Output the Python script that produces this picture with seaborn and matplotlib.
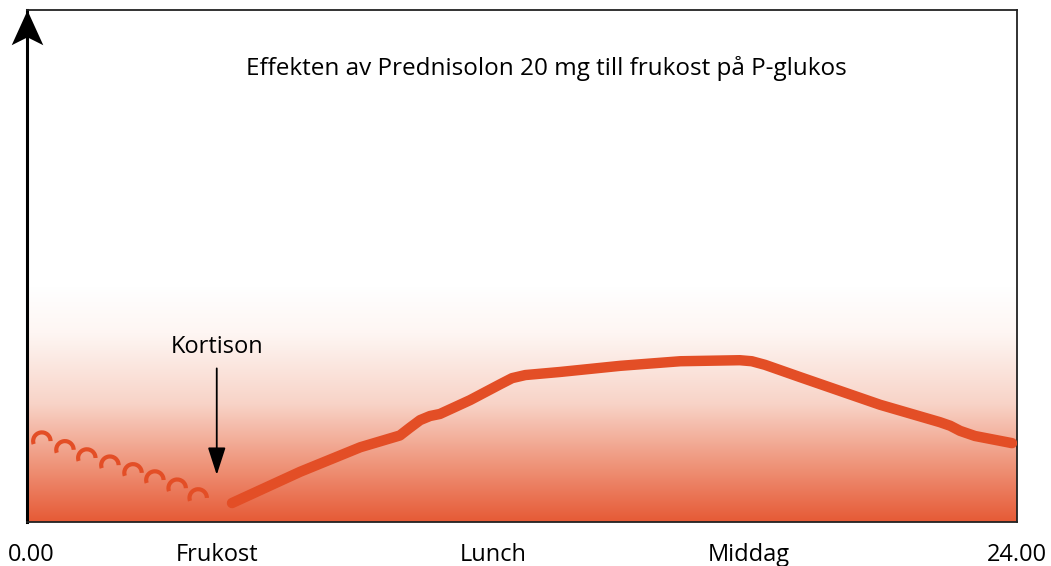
import numpy as np
import matplotlib
matplotlib.use("Agg")
import matplotlib.pyplot as plt
import seaborn as sns
import pandas as pd
from matplotlib.path import Path
from matplotlib.colors import LinearSegmentedColormap

# time of day in hours, glucose level in arbitrary units (0-100)
hours = [4.97, 6.62, 8.08, 9.04, 9.28, 9.53, 9.77, 10.01, 10.74, 11.47, 11.76, 12.08,
         12.92, 14.38, 15.84, 17.28, 17.57, 17.89, 18.74, 20.68, 22.13, 22.38, 22.62, 22.98, 23.88]
glucose = [3.7, 9.8, 14.6, 16.9, 18.4, 19.9, 20.7, 21.1, 23.8, 26.9, 28.1, 28.7,
           29.3, 30.5, 31.4, 31.6, 31.4, 30.7, 28.3, 22.9, 19.5, 18.8, 17.8, 16.8, 15.4]

# nightly values before the dose (drawn as scallops)
night_hours = [0.36, 0.92, 1.45, 2.01, 2.57, 3.10, 3.64, 4.15]
night_glucose = [15.8, 14.1, 12.5, 11.1, 9.6, 8.2, 6.6, 4.7]

tick_pos = [0.1, 4.6, 11.3, 17.5, 24.0]
tick_labels = ["0.00", "Frukost", "Lunch", "Middag", "24.00"]

title = "Effekten av Prednisolon 20 mg till frukost på P-glukos"
dose_label = "Kortison"
dose_hour = 4.6

red = "#e34e26"

sns.set_style("white")
plt.rcParams["font.family"] = ["Open Sans", "DejaVu Sans"]

fig = plt.figure(figsize=(10.51, 5.66), dpi=100)
ax = fig.add_axes([27 / 1051, 44 / 566, 990 / 1051, 512 / 566])
ax.set_xlim(0, 24)
ax.set_ylim(0, 100)

# background gradient, white at top fading to orange at bottom
grad_cmap = LinearSegmentedColormap.from_list(
    "bg", [(0.0, "#e65a36"), (0.25, "#ef967c"), (0.5, "#f8d3c7"), (0.8, "#fef6f3"), (1.0, "#ffffff")])
ramp = np.linspace(0, 1, 256).reshape(-1, 1)
ax.imshow(ramp, cmap=grad_cmap, extent=[0, 24, 0, 46], origin="lower", aspect="auto", zorder=0)
ax.axhspan(46, 100, color="white", zorder=0)

df = pd.DataFrame({"hour": hours, "glucose": glucose})
sns.lineplot(data=df, x="hour", y="glucose", color=red, lw=7.5, ax=ax, zorder=3,
             solid_capstyle="round", solid_joinstyle="round")

arc = Path.arc(0, 200)
sns.scatterplot(x=night_hours, y=night_glucose, marker=arc, s=160, facecolor="none",
                edgecolor=red, linewidth=3, ax=ax, zorder=3)

ax.annotate("", xy=(dose_hour, 9.2), xytext=(dose_hour, 30),
            arrowprops=dict(arrowstyle="-|>,head_length=1.7,head_width=0.55", color="black",
                            lw=1.3, shrinkA=0, shrinkB=0))
ax.text(dose_hour, 31.8, dose_label, ha="center", va="bottom", fontsize=17, color="black")
ax.text(12.6, 88.5, title, ha="center", va="center", fontsize=17.5, color="black")

ax.set_xticks(tick_pos)
ax.set_xticklabels(tick_labels, fontsize=17, color="black")
ax.set_yticks([])
ax.tick_params(axis="x", length=0, pad=15)
ax.set_xlabel("")
ax.set_ylabel("")
for s in ax.spines.values():
    s.set_visible(True)
    s.set_color("#222222")
    s.set_linewidth(1.3)
ax.spines["left"].set_linewidth(2.2)
ax.spines["left"].set_color("black")

# arrowhead on the y axis, tip at the top of the box
head = Path([(0, 0), (0.5, -1.1), (0, -0.85), (-0.5, -1.1), (0, 0)],
            [Path.MOVETO, Path.LINETO, Path.LINETO, Path.LINETO, Path.CLOSEPOLY])
ax.plot([0], [1], marker=head, markersize=50, color="black", transform=ax.transAxes,
        clip_on=False, zorder=5, markeredgewidth=0)

fig.savefig("out.png", dpi=100)
